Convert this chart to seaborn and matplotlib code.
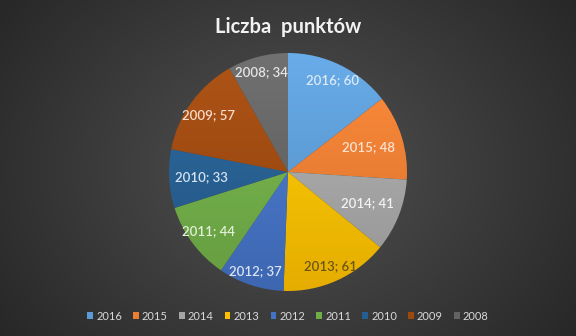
import numpy as np
import matplotlib
matplotlib.use("Agg")
import matplotlib.pyplot as plt
import seaborn as sns
from matplotlib.patches import Patch
from matplotlib.colors import to_rgb

sns.set_theme(style="white")
plt.rcParams['font.family'] = ['Lato', 'DejaVu Sans']

# Data
years = ["2016", "2015", "2014", "2013", "2012", "2011", "2010", "2009", "2008"]
points = [60, 48, 41, 61, 37, 44, 33, 57, 34]
colors = ["#5B9BD5", "#ED7D31", "#A5A5A5", "#FFC000", "#4472C4",
          "#70AD47", "#255E91", "#9E480E", "#636363"]
label_colors = ["#dce9f6", "#fbe3d3", "#f2f2f2", "#6b5518", "#dae2f3",
                "#e2efd9", "#d5e2f0", "#f6dccb", "#e6e6e6"]
label_radius = [0.86, 0.71, 0.72, 0.87, 0.88, 0.83, 0.73, 0.82, 0.87]
title = "Liczba  punktów"

W, H = 576, 336
fig = plt.figure(figsize=(W / 100, H / 100), dpi=100)

# background radial gradient
bg = fig.add_axes([0, 0, 1, 1], zorder=-10)
yy, xx = np.mgrid[0:H, 0:W]
r = np.sqrt(((xx - W / 2) / (W * 0.62)) ** 2 + ((yy - H / 2) / (H * 0.85)) ** 2)
r = np.clip(r, 0, 1)
inner = np.array(to_rgb("#525252"))
outer = np.array(to_rgb("#272727"))
img = inner[None, None, :] * (1 - r[..., None]) + outer[None, None, :] * r[..., None]
bg.imshow(img, extent=[0, 1, 0, 1], aspect="auto")
bg.axis("off")

# pie axes
cx, cy, R = 288, 172, 119
ax = fig.add_axes([(cx - R) / W, (H - cy - R) / H, 2 * R / W, 2 * R / H])
wedges, _ = ax.pie(points, colors=colors, startangle=90, counterclock=False,
                   radius=1, wedgeprops=dict(linewidth=0))
ax.set_xlim(-1, 1)
ax.set_ylim(-1, 1)
ax.set_aspect("equal")
ax.axis("off")

# gradient fill per wedge
gy = np.linspace(1, 0, 200)[:, None]
for w, c in zip(wedges, colors):
    base = np.array(to_rgb(c))
    light = np.clip(base * 1.06 + 0.03, 0, 1)
    dark = base * 0.9
    grad = light[None, None, :] * gy[..., None] + dark[None, None, :] * (1 - gy[..., None])
    grad = np.repeat(grad, 2, axis=1)
    im = ax.imshow(grad, extent=[-1, 1, -1, 1], aspect="auto", zorder=2)
    im.set_clip_path(w)
    w.set_alpha(0)

# labels
for w, y, v, lc, rf in zip(wedges, years, points, label_colors, label_radius):
    ang = np.deg2rad((w.theta1 + w.theta2) / 2)
    ax.text(rf * np.cos(ang), rf * np.sin(ang), f"{y}; {v}", ha="center", va="center",
            color=lc, fontsize=9.5, fontweight="semibold", zorder=5)

fig.text(0.5, 1 - 27 / H, title, ha="center", va="center", color="#f2f2f2",
         fontsize=14.5, fontweight="bold")

handles = [Patch(facecolor=c, edgecolor="none") for c in colors]
fig.legend(handles, years, loc="center", bbox_to_anchor=(0.5, 1 - 316 / H), ncol=9,
           frameon=False, fontsize=8, labelcolor="#d9d9d9", handlelength=0.5,
           handleheight=0.5, handletextpad=0.3, columnspacing=1.0)

fig.savefig("out.png", dpi=100)
